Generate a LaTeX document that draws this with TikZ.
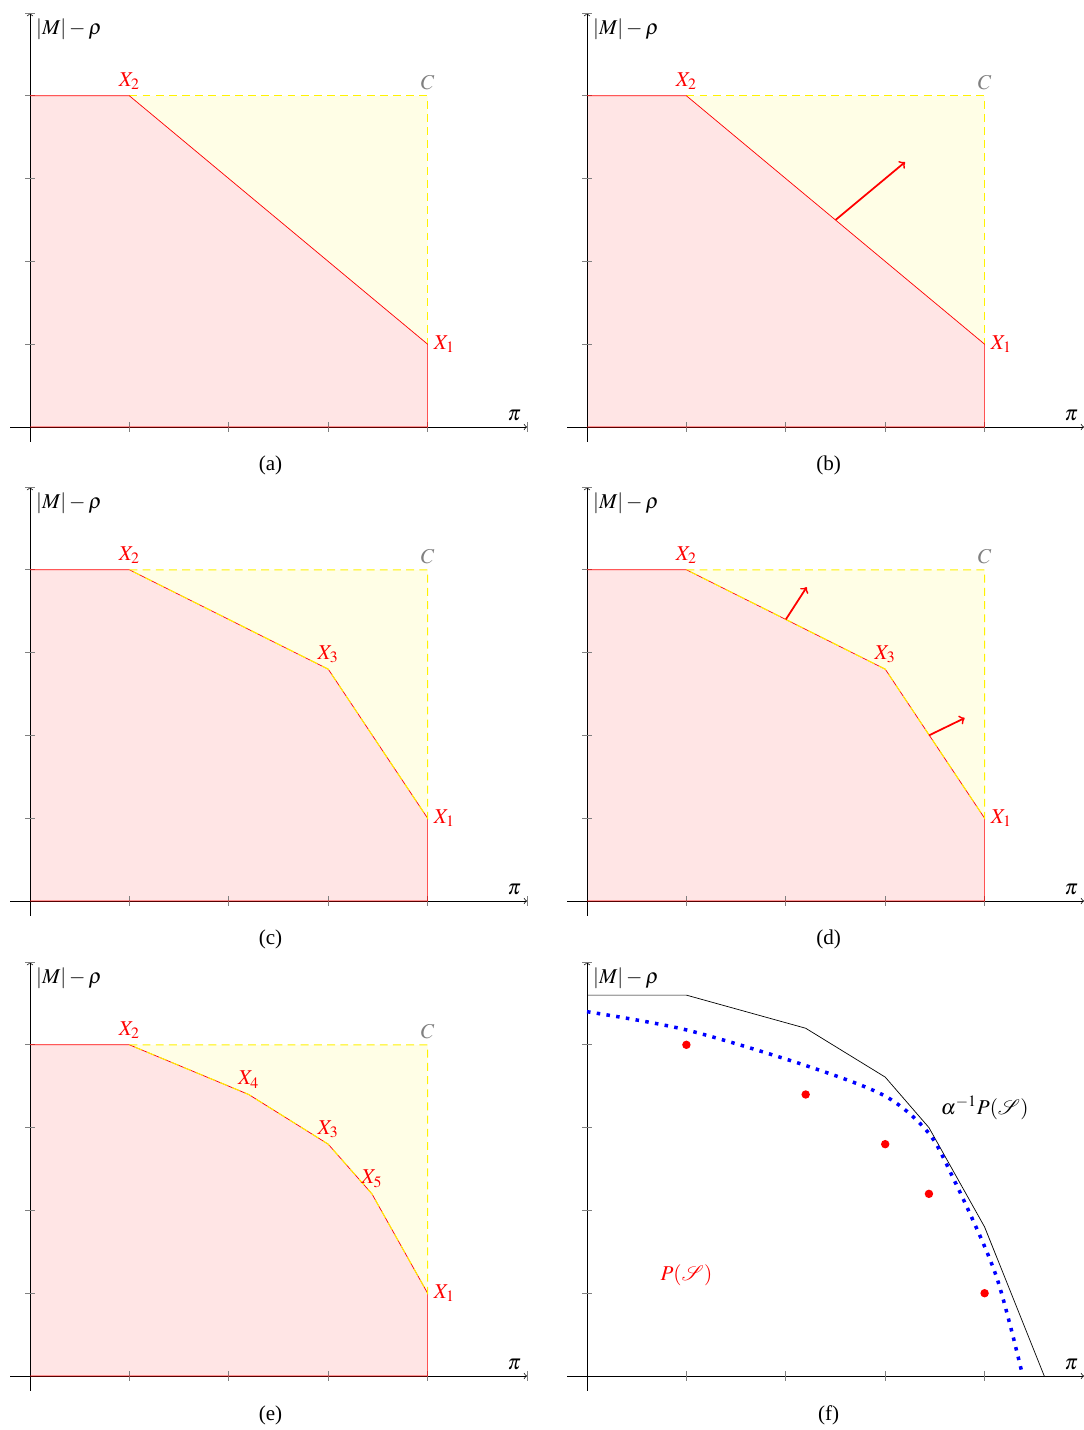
\documentclass[tikz,border=0pt]{standalone}
\usepackage{mathptmx}
\usepackage{mathrsfs}
\usepackage[no-math]{fontspec}
\setmainfont{Liberation Serif}

\newcommand{\panelaxes}[1]{%
  \draw[->] (-0.2,0) -- (5,0);
  \draw[->] (0,-0.18) -- (0,5);
  \foreach \t in {1,...,5}{
    \draw[tickmark] (\t,0) ++(0,-2.8pt) -- ++(0,5.6pt);
    \draw[tickmark] (0,\t) ++(-2.8pt,0) -- ++(5.6pt,0);
  }
  \node(pi#1)[above left] at (5,0){$\pi$};
  \node(ax#1)[below right] at (0,5){$|M|-\rho$};
}

\begin{document}
\begin{tikzpicture}[x=1.988cm,y=1.656cm,
  every node/.style={font=\large},
  tickmark/.style={gray},
  redzone/.style={fill=red!10},
  yellowzone/.style={fill=yellow!10},
  rededge/.style={red},
  yellowedge/.style={yellow,line width=0.6pt,dash pattern=on 4.5pt off 3pt},
  lbl/.style={red},
  normalvec/.style={->,red,line width=1pt}]
\useasboundingbox (-0.6cm,-20.06cm) rectangle (21.08cm,8.54cm);

\begin{scope}
\coordinate(X1a) at (4,1);
\coordinate(X2a) at (1,4);
\coordinate(Ca) at (4,4);
\fill[yellowzone] (X2a) -- (Ca) -- (X1a) -- cycle;
\fill[redzone] (0,0) -- (0,4) -- (X2a) -- (X1a) -- (4,0) -- cycle;
\panelaxes{a}
\draw[yellowedge] (X2a) -- (Ca) -- (X1a);
\draw[rededge] (0,4) -- (X2a) -- (X1a) -- (4,0) -- (0,0);
\node(lX1a)[lbl,right] at (X1a){$X_1$};
\node(lX2a)[lbl,above] at (X2a){$X_2$};
\node(lCa)[gray,above] at (Ca){$C$};
\node(capa) at (2.42,-0.47){(a)};
\end{scope}

\begin{scope}[shift={(11.14cm,0cm)}]
\coordinate(X1b) at (4,1);
\coordinate(X2b) at (1,4);
\coordinate(Cb) at (4,4);
\coordinate(Nb0) at (2.5,2.5);
\coordinate(Nb1) at (3.2,3.2);
\fill[yellowzone] (X2b) -- (Cb) -- (X1b) -- cycle;
\fill[redzone] (0,0) -- (0,4) -- (X2b) -- (X1b) -- (4,0) -- cycle;
\panelaxes{b}
\draw[yellowedge] (X2b) -- (Cb) -- (X1b);
\draw[rededge] (0,4) -- (X2b) -- (X1b) -- (4,0) -- (0,0);
\draw[normalvec] (Nb0) -- (Nb1);
\node(lX1b)[lbl,right] at (X1b){$X_1$};
\node(lX2b)[lbl,above] at (X2b){$X_2$};
\node(lCb)[gray,above] at (Cb){$C$};
\node(capb) at (2.43,-0.47){(b)};
\end{scope}

\begin{scope}[shift={(0cm,-9.48cm)}]
\coordinate(X1c) at (4,1);
\coordinate(X2c) at (1,4);
\coordinate(X3c) at (3,2.8);
\coordinate(Cc) at (4,4);
\fill[yellowzone] (X2c) -- (Cc) -- (X1c) -- (X3c) -- cycle;
\fill[redzone] (0,0) -- (0,4) -- (X2c) -- (X3c) -- (X1c) -- (4,0) -- cycle;
\panelaxes{c}
\draw[rededge] (0,4) -- (X2c) -- (X3c) -- (X1c) -- (4,0) -- (0,0);
\draw[yellowedge] (X2c) -- (Cc) -- (X1c) -- (X3c) -- cycle;
\node(lX1c)[lbl,right] at (X1c){$X_1$};
\node(lX2c)[lbl,above] at (X2c){$X_2$};
\node(lX3c)[lbl,above] at (X3c){$X_3$};
\node(lCc)[gray,above] at (Cc){$C$};
\node(capc) at (2.42,-0.47){(c)};
\end{scope}

\begin{scope}[shift={(11.14cm,-9.48cm)}]
\coordinate(X1d) at (4,1);
\coordinate(X2d) at (1,4);
\coordinate(X3d) at (3,2.8);
\coordinate(Cd) at (4,4);
\coordinate(Nd0) at (2,3.4);
\coordinate(Nd1) at (2.21,3.79);
\coordinate(Nd2) at (3.44,2);
\coordinate(Nd3) at (3.8,2.21);
\fill[yellowzone] (X2d) -- (Cd) -- (X1d) -- (X3d) -- cycle;
\fill[redzone] (0,0) -- (0,4) -- (X2d) -- (X3d) -- (X1d) -- (4,0) -- cycle;
\panelaxes{d}
\draw[rededge] (0,4) -- (X2d) -- (X3d) -- (X1d) -- (4,0) -- (0,0);
\draw[yellowedge] (X2d) -- (Cd) -- (X1d) -- (X3d) -- cycle;
\draw[normalvec] (Nd0) -- (Nd1);
\draw[normalvec] (Nd2) -- (Nd3);
\node(lX1d)[lbl,right] at (X1d){$X_1$};
\node(lX2d)[lbl,above] at (X2d){$X_2$};
\node(lX3d)[lbl,above] at (X3d){$X_3$};
\node(lCd)[gray,above] at (Cd){$C$};
\node(capd) at (2.43,-0.47){(d)};
\end{scope}

\begin{scope}[shift={(0cm,-18.98cm)}]
\coordinate(X1e) at (4,1);
\coordinate(X2e) at (1,4);
\coordinate(X3e) at (3,2.8);
\coordinate(X4e) at (2.2,3.4);
\coordinate(X5e) at (3.44,2.2);
\coordinate(Ce) at (4,4);
\fill[yellowzone] (X2e) -- (Ce) -- (X1e) -- (X5e) -- (X3e) -- (X4e) -- cycle;
\fill[redzone] (0,0) -- (0,4) -- (X2e) -- (X4e) -- (X3e) -- (X5e) -- (X1e) -- (4,0) -- cycle;
\panelaxes{e}
\draw[rededge] (0,4) -- (X2e) -- (X4e) -- (X3e) -- (X5e) -- (X1e) -- (4,0) -- (0,0);
\draw[yellowedge] (X2e) -- (Ce) -- (X1e) -- (X5e) -- (X3e) -- (X4e) -- cycle;
\node(lX1e)[lbl,right] at (X1e){$X_1$};
\node(lX2e)[lbl,above] at (X2e){$X_2$};
\node(lX3e)[lbl,above] at (X3e){$X_3$};
\node(lX4e)[lbl,above] at (X4e){$X_4$};
\node(lX5e)[lbl,above] at (X5e){$X_5$};
\node(lCe)[gray,above] at (Ce){$C$};
\node(cape) at (2.42,-0.47){(e)};
\end{scope}

\begin{scope}[shift={(11.14cm,-18.98cm)}]
\coordinate(P1) at (1,4);
\coordinate(P2) at (2.2,3.4);
\coordinate(P3) at (3,2.8);
\coordinate(P4) at (3.44,2.2);
\coordinate(P5) at (4,1);
\coordinate(Q0) at (0,4.6);
\coordinate(Q1) at (1,4.6);
\coordinate(Q2) at (2.2,4.2);
\coordinate(Q3) at (3,3.61);
\coordinate(Q4) at (3.44,3);
\coordinate(Q5) at (4,1.8);
\coordinate(Q6) at (4.6,0);
\panelaxes{f}
\draw (Q0) -- (Q1) -- (Q2) -- (Q3) -- (Q4) -- (Q5) -- (Q6);
\draw[blue,line width=2pt,dash pattern=on 2pt off 3.6pt]
  plot[smooth] coordinates {(0,4.4) (1,4.18) (2.2,3.75) (3,3.38) (3.44,2.93) (3.7,2.35) (3.98,1.62) (4.13,1.16) (4.26,0.6) (4.37,0.07)};
\foreach \p in {P1,P2,P3,P4,P5}{\fill[red] (\p) circle (2.4pt);}
\node(alphaP) at (4,3.24){$\alpha^{-1}P(\mathscr{S})$};
\node(PS)[red] at (1,1.22){$P(\mathscr{S})$};
\node(capf) at (2.43,-0.47){(f)};
\end{scope}
\end{tikzpicture}
\end{document}
